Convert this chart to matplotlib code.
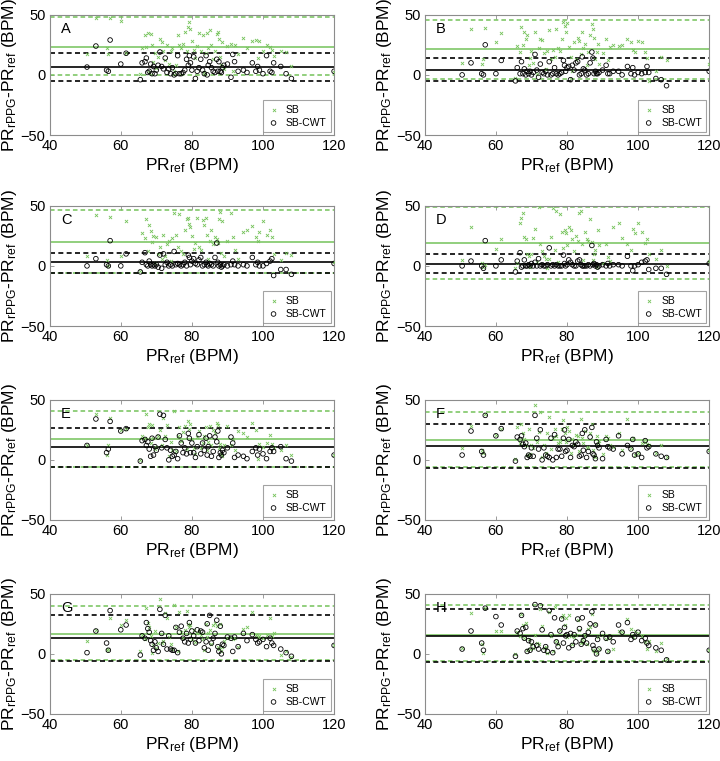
import numpy as np
import matplotlib.pyplot as plt

plt.rcParams['font.family'] = ['Liberation Sans', 'DejaVu Sans']
plt.rcParams['mathtext.fontset'] = 'custom'
plt.rcParams['mathtext.rm'] = 'Liberation Sans'
plt.rcParams['mathtext.it'] = 'Liberation Sans:italic'

# reference pulse rate (shared by every panel)
pr_ref = [50.5, 53.0, 56.0, 56.5, 57.0, 60.0, 61.5, 65.5, 66.0, 66.8,
          67.2, 67.6, 68.0, 68.4, 68.8, 69.2, 69.6, 70.0, 70.5, 71.0,
          71.5, 72.0, 72.5, 73.0, 73.5, 74.0, 74.5, 75.0, 75.5, 76.0,
          76.5, 77.0, 77.5, 78.0, 78.5, 79.0, 79.3, 79.6, 80.0, 80.5,
          81.0, 81.5, 82.0, 82.5, 83.0, 83.5, 84.0, 84.3, 84.6, 85.0,
          85.5, 86.0, 86.5, 87.0, 87.3, 87.6, 88.0, 88.3, 88.6, 89.0,
          90.0, 91.0, 91.5, 92.0, 93.0, 94.5, 95.5, 97.0, 98.0, 98.5,
          99.0, 100.0, 101.0, 102.0, 102.5, 103.0, 105.0, 106.5, 108.0, 120.0]

panel_letters = ['A', 'B', 'C', 'D', 'E', 'F', 'G', 'H']

# differences PR_rPPG - PR_ref, SB method (green x)
sb_a = [17, 47, 22, 17, 47, 45, 18, 1, 22, 33,
        23, 35, 2, 34, 25, 11, 18, 6, 15, 30,
        27, 20, 12, 25, 9, 20, 22, 3, 8, 33,
        25, 22, 26, 36, 20, 40, 44, 38, 28, 21,
        14, 24, 35, 20, 33, 2, 18, 35, 22, 37,
        25, 13, 20, 34, 36, 30, 15, 8, 27, 5,
        24, 26, 3, 25, 17, 31, 22, 28, 29, 14,
        28, 20, 25, 23, 21, 16, 20, 19, 7, 2]
sb_b = [10, 38, 9, 13, 39, 27, 35, -3, 24, 19,
        40, 25, 36, 30, 33, 8, 14, 20, 10, 36,
        1, 22, 30, 29, 18, 5, 20, 37, 13, 21,
        15, 38, 22, 20, 30, 44, 41, 36, 43, 23,
        15, 3, 27, 13, 31, 28, 17, 36, 22, 26,
        8, 19, 33, 42, 38, 31, 13, 19, 26, 9,
        18, 30, 12, 23, 25, 24, 25, 30, 27, 21,
        19, 28, 27, 19, 14, -5, 3, 15, 12, 9]
sb_c = [8, 42, 5, 0, 41, 8, 37, -4, 27, 23,
        39, 12, 34, 29, 20, 25, 2, 24, 10, 16,
        6, 26, 8, 18, 21, 4, 23, 44, 26, 16,
        43, 12, 10, 30, 39, 40, 35, 32, 25, 14,
        19, 40, 16, 13, 38, 34, 40, 26, 6, 21,
        30, 18, 24, 22, 19, 39, 45, 11, 37, 8,
        21, 44, 24, 13, 6, 28, 30, 33, 24, 21,
        28, 37, 26, 30, 24, 10, 5, 11, 9, 3]
sb_d = [5, 32, 2, -1, 1, 14, 22, -2, 2, 36,
        40, 44, 24, 22, 10, 8, -1, 10, 23, 31,
        3, 49, 18, 12, 8, 6, -2, 6, 24, 48,
        13, 46, 3, 43, 28, 15, 30, 27, 17, 32,
        30, 22, 12, 25, 21, 44, 46, 18, 5, 28,
        22, 21, 39, 20, 5, 10, 13, -1, 30, 17,
        2, 18, 7, 4, 32, 36, 23, 18, 13, 31,
        27, 36, 28, 19, 22, 10, 6, 13, 0, 4]
sb_e = [12, 38, 4, 12, 35, 25, 26, 0, 20, 18,
        38, 27, 30, 14, 29, 18, 9, 11, 20, 25,
        12, 35, 20, 29, 3, 15, 8, 41, 7, 20,
        27, 16, 23, 28, 9, 32, 26, 30, 17, 10,
        5, 19, 24, 10, 14, 20, 27, 8, 15, 28,
        12, 25, 22, 31, 29, 10, 13, 5, 3, 12,
        28, 12, 17, 8, 24, 22, 19, 31, 25, 1,
        13, 11, 14, 21, 13, 10, 8, 12, 4, 4]
sb_f = [10, 28, 8, 6, 38, 21, 26, 1, 27, 14,
        30, 22, 17, 12, 4, 26, 5, 12, 10, 46,
        15, 23, 40, 2, 12, 6, 22, 36, 9, 18,
        26, 20, 14, 15, 26, 33, 22, 15, 27, 24,
        6, 17, 13, 21, 20, 7, 34, 18, 14, 24,
        10, 11, 22, 30, 8, 3, 2, 20, 14, 16,
        5, 20, 18, 12, 11, 22, 8, 34, 10, 18,
        4, 6, 14, 15, 13, 12, 6, 12, 2, 8]
sb_g = [11, 20, 3, 4, 30, 24, 28, 2, 16, 12,
        38, 26, 22, 15, 1, 7, 19, 5, 9, 46,
        9, 11, 34, 30, 14, 8, 4, 41, 22, 2,
        35, 18, 13, 20, 36, 25, 22, 24, 12, 20,
        10, 17, 19, 16, 12, 3, 25, 14, 17, 20,
        8, 24, 26, 23, 6, 4, 25, 2, 6, 11,
        13, 14, 12, 13, 6, 21, 22, 35, 16, 14,
        15, 13, 16, 30, 15, 17, -1, 2, -3, 7]
sb_h = [5, 34, 8, 1, 38, 19, 19, 0, 18, 15,
        33, 24, 13, 26, 3, 12, 4, 8, 5, 16,
        9, 8, 37, 23, 5, 6, 1, 35, 15, 2,
        39, 11, 8, 20, 31, 32, 24, 30, 14, 32,
        15, 8, 14, 16, 28, 20, 9, 12, 10, 15,
        8, 21, 22, 33, 3, 2, 25, 1, 14, 4,
        16, 12, 2, 13, 4, 19, 18, 29, 21, 14,
        19, 17, 15, 10, 4, 11, 2, 9, -4, 3]

# differences PR_rPPG - PR_ref, SB-CWT method (black o)
cwt_a = [6.5, 24, 4, 3, 29, 9, 18, -4, 10, 11,
         14, 2, 3, 9, 1, 7, 1, 4, 8, 19,
         7, 5, 14, 2, 5, 1, 6, 0, 1, 16,
         1, 1, 2, 4, 13, 8, 16, 10, 4, 15,
         -3, 3, 6, 13, 4, 1, 16, 0, 8, 11,
         6, 3, 2, 13, 3, 11, 3, 2, 6, 8,
         9, -2, 17, 11, 3, 4, 2, 10, 3, 7,
         4, 1, 16, 3, 2, 10, 7, 1, -3, 3]
cwt_b = [0, 10, 1, 0, 25, 1, 12, -5, 6, 1,
         11, 1, 5, 0, 3, 1, 3, 0, 2, 17,
         4, -2, 9, 2, 1, 3, 0, 11, 0, 1,
         6, 1, 0, 1, 2, 12, 8, 3, 6, 7,
         -4, 8, 4, 10, 11, 0, 1, 15, 5, 4,
         0, 1, 10, 19, 14, 1, 3, 1, 1, 2,
         4, 8, 1, 1, 3, 3, 0, 7, 1, 6,
         0, 2, 1, 2, 7, 2, -3, -4, -9, 3]
cwt_c = [0, 6, 1, 0, 21, 0, 10, -5, 3, 11,
         1, 0, 4, 1, 0, 1, 0, 1, -1, 9,
         -2, 10, 1, 3, 0, 1, 0, 12, 1, 2,
         1, 0, 1, 3, 0, 9, 7, 1, 4, 6,
         2, 1, 5, 7, 0, 1, 3, 1, 0, 2,
         1, 0, 7, 19, 3, 0, 1, -1, 0, 1,
         0, 1, 4, 1, 0, 1, 0, 7, 1, 3,
         0, 0, 2, 4, 6, -8, -3, -3, -7, 2]
cwt_d = [0, 4, 0, -2, 21, 0, 5, -5, 4, 11,
         -1, 0, 5, 0, 0, 1, 0, 2, 0, 3,
         0, 6, 0, 1, 0, 0, 1, 15, 0, 1,
         0, 1, 0, 0, 0, 9, 2, 0, 1, 5,
         3, 1, 0, 0, 4, 5, 1, 0, 0, 0,
         0, 1, 0, 17, 1, 2, 0, 1, -1, 0,
         1, 0, 2, 0, 1, 1, 0, 8, 0, -4,
         0, 1, 3, 4, 5, -3, -2, -2, -7, 2]
cwt_e = [12, 34, 6, 9, 32, 24, 26, -1, 16, 17,
         12, 15, 9, 3, 18, 4, 11, 8, 19, 38,
         10, 37, 17, 10, 0, 8, 3, 4, 7, 1,
         20, 14, 6, 10, 5, 22, 18, 6, 14, 6,
         2, 11, 21, 5, 14, 8, 18, 4, 11, 20,
         3, 7, 19, 15, 24, 2, 6, 4, 8, 6,
         10, 19, 14, 2, 4, 3, 1, 7, 10, 4,
         9, 5, 1, 7, 10, 7, 11, 1, -1, 4]
cwt_f = [4, 24, 7, 4, 37, 20, 26, -1, 19, 17,
         20, 13, 11, 14, 2, 4, 3, 10, 3, 37,
         18, 9, 25, 0, 10, 4, 3, 2, 18, 0,
         21, 2, 9, 9, 3, 18, 25, 7, 8, 17,
         2, 12, 11, 15, 13, 3, 4, 22, 8, 25,
         2, 7, 19, 27, 5, 4, 1, 15, 12, 10,
         1, 17, 11, 10, 9, 20, 5, 12, 9, 17,
         4, 5, 2, 16, 10, 11, 5, 3, 2, 7]
cwt_g = [1, 19, 9, 3, 36, 20, 24, -1, 15, 13,
         26, 21, 18, 11, 8, 3, 10, 5, 2, 37,
         17, 8, 32, 4, 15, 4, 3, 3, 22, 1,
         18, 23, 13, 10, 17, 9, 26, 12, 19, 15,
         9, 20, 11, 19, 18, 5, 10, 25, 3, 32,
         9, 13, 17, 28, 6, 2, 23, 0, 8, 7,
         14, 13, 2, 14, 6, 17, 11, 16, 12, 9,
         10, 12, 6, 13, 9, 7, 4, 1, -2, 7]
cwt_h = [4, 19, 9, 3, 38, 31, 24, -2, 19, 17,
         32, 21, 13, 22, 2, 11, 3, 10, 6, 41,
         7, 4, 40, 20, 3, 6, 2, 36, 16, 1,
         30, 10, 6, 19, 29, 9, 22, 15, 16, 5,
         17, 7, 16, 10, 29, 21, 8, 30, 11, 15,
         9, 18, 25, 35, 7, 4, 24, 0, 12, 4,
         17, 13, 2, 14, 10, 24, 18, 26, 12, 16,
         14, 18, 11, 13, 9, 7, 5, 3, -5, 3]

# bias and limits of agreement (lower, mean, upper)
sb_lines = [[-0.5, 23.6, 48.0], [-3.3, 21.5, 46.0], [-6.2, 19.6, 46.5], [-11.0, 19.0, 49.0],
            [-6.0, 17.5, 41.0], [-6.2, 16.7, 39.7], [-5.2, 16.3, 40.0], [-6.0, 16.0, 40.5]]
cwt_lines = [[-4.7, 6.4, 18.6], [-5.5, 4.0, 14.0], [-6.0, 3.0, 11.0], [-6.2, 1.2, 9.8],
             [-6.0, 10.3, 26.4], [-6.7, 11.4, 29.7], [-5.8, 13.5, 32.0], [-6.5, 15.0, 37.0]]

sb_all = [sb_a, sb_b, sb_c, sb_d, sb_e, sb_f, sb_g, sb_h]
cwt_all = [cwt_a, cwt_b, cwt_c, cwt_d, cwt_e, cwt_f, cwt_g, cwt_h]

green = '#74c25a'
edge = '#8c8c8c'

fig = plt.figure(figsize=(7.2, 7.61), dpi=100)

lefts = [0.069, 0.590]
bottoms = [0.8226, 0.5716, 0.3167, 0.0618]
w, h = 0.395, 0.158

for i in range(8):
    row, col = i // 2, i % 2
    ax = fig.add_axes([lefts[col], bottoms[row], w, h])

    ax.scatter(pr_ref, sb_all[i], marker='x', s=5, color=green, linewidths=0.6,
               label='SB', zorder=3)
    ax.scatter(pr_ref, cwt_all[i], marker='o', s=11, facecolors='none',
               edgecolors='black', linewidths=0.6, label='SB-CWT', zorder=3)

    lo, mu, hi = sb_lines[i]
    ax.axhline(mu, color=green, lw=1.1, zorder=2)
    ax.axhline(hi, color=green, lw=1.1, ls='--', dashes=(3, 2), zorder=2)
    ax.axhline(lo, color=green, lw=1.1, ls='--', dashes=(3, 2), zorder=2)
    lo, mu, hi = cwt_lines[i]
    ax.axhline(mu, color='black', lw=1.2, zorder=2)
    ax.axhline(hi, color='black', lw=1.2, ls='--', dashes=(3, 2), zorder=2)
    ax.axhline(lo, color='black', lw=1.2, ls='--', dashes=(3, 2), zorder=2)

    ax.set_xlim(40, 120)
    ax.set_ylim(-50, 50)
    ax.set_xticks([40, 60, 80, 100, 120])
    ax.set_yticks([-50, 0, 50])
    ax.tick_params(direction='in', length=3, width=0.6, color=edge,
                   labelsize=10.5, top=True, right=False, pad=3)
    for sp in ax.spines.values():
        sp.set_color(edge)
        sp.set_linewidth(0.8)

    ax.set_xlabel(r'PR$_{\mathrm{ref}}$ (BPM)', fontsize=12.5, labelpad=2)
    ax.set_ylabel(r'PR$_{\mathrm{rPPG}}$-PR$_{\mathrm{ref}}$ (BPM)', fontsize=12.5,
                  labelpad=1)
    ax.text(0.04, 0.94, panel_letters[i], transform=ax.transAxes, fontsize=10.5,
            ha='left', va='top')

    leg = ax.legend(loc='lower right', fontsize=7.5, frameon=True, fancybox=False,
                    handletextpad=0.6, borderpad=0.4, labelspacing=0.3,
                    handlelength=1.2, borderaxespad=0.3, markerscale=1.0)
    leg.get_frame().set_edgecolor(edge)
    leg.get_frame().set_linewidth(0.8)

plt.savefig('out.png', dpi=100)
